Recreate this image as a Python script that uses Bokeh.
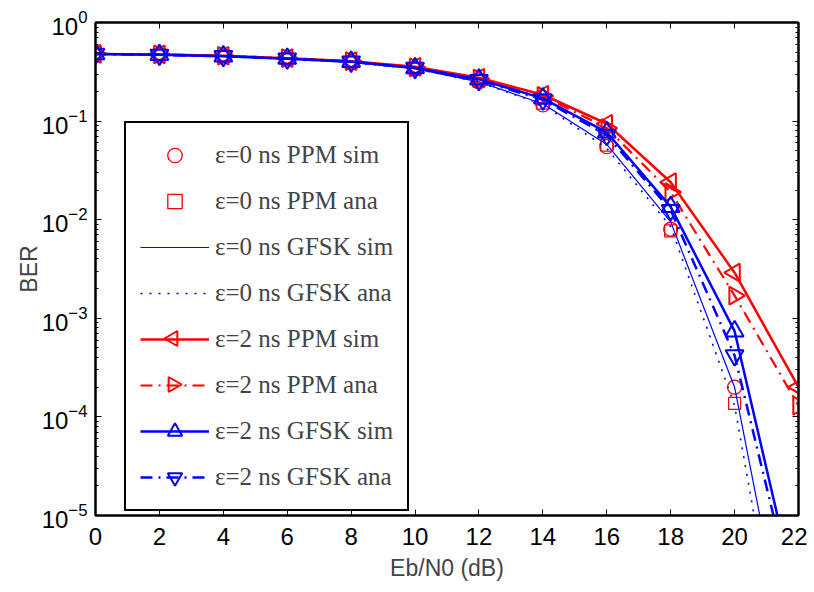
import numpy as np
from bokeh.plotting import figure
from bokeh.models import (Range1d, LinearAxis, LogAxis, SingleIntervalTicker, LogTicker,
                          Legend, LegendItem, CustomJSTickFormatter)
from bokeh.embed import file_html
from bokeh.resources import INLINE

# ---------------- data ----------------
ebn0 = [0, 2, 4, 6, 8, 10, 12, 14, 16, 18, 20, 22]
ebn0_sim0 = [0, 2, 4, 6, 8, 10, 12, 14, 16, 18, 20]

ppm0_sim = [0.48, 0.47, 0.455, 0.43, 0.395, 0.34, 0.25, 0.146, 0.055, 0.0080, 2.0e-4]
ppm0_ana = [0.48, 0.47, 0.455, 0.43, 0.395, 0.34, 0.255, 0.152, 0.057, 0.0077, 1.37e-4]
gfsk0_sim = [0.48, 0.47, 0.455, 0.43, 0.395, 0.34, 0.25, 0.15, 0.058, 0.0095, 2.0e-4, 1e-7]
gfsk0_ana = [0.48, 0.47, 0.455, 0.43, 0.395, 0.34, 0.248, 0.147, 0.053, 0.0085, 1.3e-4, 3e-8]
ppm2_sim = [0.48, 0.475, 0.46, 0.435, 0.405, 0.355, 0.275, 0.185, 0.094, 0.024, 2.9e-3, 2.0e-4]
ppm2_ana = [0.48, 0.475, 0.46, 0.435, 0.405, 0.35, 0.27, 0.18, 0.085, 0.019, 1.7e-3, 1.3e-4]
gfsk2_sim = [0.48, 0.47, 0.455, 0.43, 0.40, 0.345, 0.265, 0.17, 0.077, 0.0135, 7.4e-4, 1.2e-6]
gfsk2_ana = [0.48, 0.47, 0.455, 0.43, 0.40, 0.345, 0.26, 0.165, 0.072, 0.0125, 4.2e-4, 9e-7]

labels = ["ε=0 ns PPM sim", "ε=0 ns PPM ana", "ε=0 ns GFSK sim", "ε=0 ns GFSK ana",
          "ε=2 ns PPM sim", "ε=2 ns PPM ana", "ε=2 ns GFSK sim", "ε=2 ns GFSK ana"]
x_ticks_interval = 2

RED = "#ff0000"
BLUE = "#0000ff"
SANS = "Liberation Sans"
SERIF = "Liberation Serif"

FW, FH = 703, 493
X0, X1 = 0, 22
Y0, Y1 = 1e-5, 1

p = figure(frame_width=FW, frame_height=FH, x_range=Range1d(X0, X1), y_range=Range1d(Y0, Y1),
           y_axis_type="log", output_backend="svg", toolbar_location=None, title=None,
           min_border_left=95, min_border_right=9, min_border_top=22, min_border_bottom=60)
p.xgrid.visible = False
p.ygrid.visible = False
p.outline_line_color = "black"
p.outline_line_width = 2
p.background_fill_color = "white"

# main axes
xa = p.xaxis[0]
xa.ticker = SingleIntervalTicker(interval=x_ticks_interval, num_minor_ticks=0)
ya = p.yaxis[0]
ya.ticker = LogTicker(num_minor_ticks=10)
for ax in (xa, ya):
    ax.major_tick_in = 6
    ax.major_tick_out = 0
    ax.minor_tick_in = 3
    ax.minor_tick_out = 0
    ax.axis_line_width = 2
    ax.major_tick_line_width = 1
    ax.major_label_text_font = SANS
    ax.major_label_text_font_size = "24px"
    ax.major_label_text_color = "black"
    ax.axis_label_text_font = SANS
    ax.axis_label_text_font_size = "23px"
    ax.axis_label_text_font_style = "normal"
xa.major_label_standoff = 12
ya.major_label_standoff = 8
xa.axis_label = "Eb/N0 (dB)"
xa.axis_label_standoff = 7
ya.axis_label = "BER"
ya.axis_label_standoff = -3

# top and right axes (ticks only)
top = LinearAxis(ticker=SingleIntervalTicker(interval=x_ticks_interval, num_minor_ticks=0),
                 formatter=CustomJSTickFormatter(code="return ''"))
right = LogAxis(ticker=LogTicker(num_minor_ticks=10),
                formatter=CustomJSTickFormatter(code="return ''"))
for ax in (top, right):
    ax.major_tick_in = 6
    ax.major_tick_out = 0
    ax.minor_tick_in = 3
    ax.minor_tick_out = 0
    ax.axis_line_width = 2
    ax.major_label_standoff = 0
    ax.major_label_text_font_size = "1px"
p.add_layout(top, "above")
p.add_layout(right, "right")

items = []

# eps=0 PPM sim: circles only
r = p.scatter(ebn0_sim0, ppm0_sim, marker="circle", size=14, fill_color=None,
              line_color=RED, line_width=1.3)
items.append(LegendItem(label=labels[0], renderers=[r]))

# eps=0 PPM ana: squares only
r = p.scatter(ebn0_sim0, ppm0_ana, marker="square", size=12, fill_color=None,
              line_color=RED, line_width=1.3)
items.append(LegendItem(label=labels[1], renderers=[r]))

# eps=0 GFSK sim: thin solid blue
r = p.line(ebn0, gfsk0_sim, line_color=BLUE, line_width=1.2)
items.append(LegendItem(label=labels[2], renderers=[r]))

# eps=0 GFSK ana: dotted blue
r = p.line(ebn0, gfsk0_ana, line_color=BLUE, line_width=1.6, line_dash="2 7")
items.append(LegendItem(label=labels[3], renderers=[r]))

# eps=2 PPM sim: red solid + left triangle
r1 = p.line(ebn0, ppm2_sim, line_color=RED, line_width=2.5)
p.scatter(ebn0, ppm2_sim, marker="triangle", size=18, angle=np.pi / 2,
          fill_color=None, line_color=RED, line_width=2)
items.append(LegendItem(label=labels[4], renderers=[r1]))

# eps=2 PPM ana: red dash-dot + right triangle
r1 = p.line(ebn0, ppm2_ana, line_color=RED, line_width=2.2, line_dash="12 6 2 6")
p.scatter(ebn0, ppm2_ana, marker="triangle", size=18, angle=-np.pi / 2,
          fill_color=None, line_color=RED, line_width=2)
items.append(LegendItem(label=labels[5], renderers=[r1]))

# eps=2 GFSK sim: blue solid + up triangle
r1 = p.line(ebn0, gfsk2_sim, line_color=BLUE, line_width=2.5)
r2 = p.scatter(ebn0, gfsk2_sim, marker="triangle", size=18,
               fill_color=None, line_color=BLUE, line_width=2)
items.append(LegendItem(label=labels[6], renderers=[r1, r2]))

# eps=2 GFSK ana: blue dash-dot + down triangle
r1 = p.line(ebn0, gfsk2_ana, line_color=BLUE, line_width=2.5, line_dash="12 6 2 6")
r2 = p.scatter(ebn0, gfsk2_ana, marker="inverted_triangle", size=18,
               fill_color=None, line_color=BLUE, line_width=2)
items.append(LegendItem(label=labels[7], renderers=[r1, r2]))

LEG_X, LEG_Y = 29, 4
PAD, GW, GH, SP = 14, 69, 36, 10
legend = Legend(items=items, location=(LEG_X, LEG_Y), margin=0, padding=PAD, spacing=SP,
                glyph_width=GW, glyph_height=GH, label_height=GH, label_standoff=6,
                label_text_font=SERIF, label_text_font_size="25px",
                border_line_color="black", border_line_width=2, border_line_alpha=1.0,
                background_fill_alpha=0.0)
p.add_layout(legend, "center")

# rotated legend markers (Bokeh legend glyphs ignore marker angle):
# legend layout position (frame pixels) converted to data coordinates
leg_top = LEG_Y + 2 * PAD + 8 * GH + 7 * SP + 3
mk_px = LEG_X + PAD + GW / 2
row_px = [leg_top - PAD - GH / 2 - k * (GH + SP) for k in (4, 5)]
mk_x = X0 + (X1 - X0) * mk_px / FW
mk_y = [10 ** (np.log10(Y0) + (np.log10(Y1) - np.log10(Y0)) * r_ / FH) for r_ in row_px]
p.scatter([mk_x], [mk_y[0]], marker="triangle", size=15, angle=np.pi / 2,
          fill_color=None, line_color=RED, line_width=2)
p.scatter([mk_x], [mk_y[1]], marker="triangle", size=15, angle=-np.pi / 2,
          fill_color=None, line_color=RED, line_width=2)

open("out.html", "w").write(file_html(p, INLINE))
